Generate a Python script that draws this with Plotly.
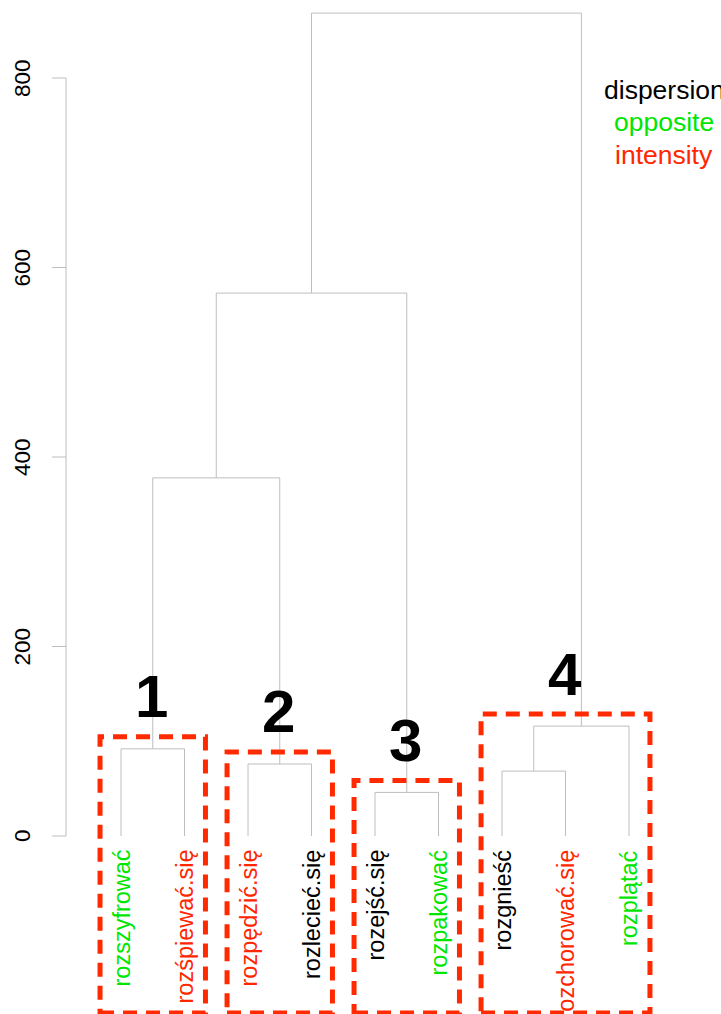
import plotly.graph_objects as go

# ---------------- data ----------------
leaves = ["rozszyfrować", "rozśpiewać.się", "rozpędzić.się", "rozlecieć.się",
          "rozejść.się", "rozpakować", "rozgnieść", "rozchorować.się", "rozplątać"]
leaf_groups = ["opposite", "intensity", "intensity", "dispersion",
               "dispersion", "opposite", "dispersion", "intensity", "opposite"]
# hclust-style merges: negative = leaf (1-based position), positive = earlier merge
merge_left = [-5, -7, -3, -1, 2, 4, 6, 7]
merge_right = [-6, -8, -4, -2, -9, 3, 1, 5]
merge_height = [46, 68.5, 76, 92, 116, 378, 573, 868.5]
# highlighted clusters: member leaves and the merge that closes each cluster
cluster_names = ["1", "2", "3", "4"]
cluster_leaves = [[1, 2], [3, 4], [5, 6], [7, 8, 9]]
cluster_merge = [4, 3, 1, 5]
tick_values = [0, 200, 400, 600, 800]
legend_groups = ["dispersion", "opposite", "intensity"]

# ---------------- style ----------------
FONT = "Liberation Sans, Arial, Helvetica, sans-serif"
group_colors = {"dispersion": "#000000", "opposite": "#00E600", "intensity": "#FF2600"}
LINE_GREY = "#BEBEBE"
BOX_RED = "#FF2A00"

W, H = 721, 1014
# pixel mapping (leaf i at 57.5 + 63.5*i px ; value v at 836 - 0.9475*v px)
x_range = [(0 - 57.5) / 63.5, (W - 57.5) / 63.5]
y_range = [(836 - H) / 0.9475, 836 / 0.9475]
px_y = 1 / 0.9475  # data units per pixel (y)
px_x = 1 / 63.5    # data units per pixel (x)

# ---------------- dendrogram geometry ----------------
node_x, node_h = {}, {}


def child_pos(c):
    if c < 0:
        return float(-c), 0.0
    return node_x[c], node_h[c]


seg_x, seg_y = [], []
for j, (a, b, h) in enumerate(zip(merge_left, merge_right, merge_height), start=1):
    xa, ha = child_pos(a)
    xb, hb = child_pos(b)
    seg_x += [xa, xa, xb, xb, None]
    seg_y += [ha, h, h, hb, None]
    node_x[j] = (xa + xb) / 2
    node_h[j] = h

fig = go.Figure()
fig.add_trace(go.Scatter(x=seg_x, y=seg_y, mode="lines",
                         line=dict(color=LINE_GREY, width=1),
                         hoverinfo="skip", showlegend=False))

# y axis (R style: line only between first and last tick)
ax_x = (66 - 57.5) * px_x
tick_len = 14 * px_x
axis_x = [ax_x, ax_x, None]
axis_y = [tick_values[0], tick_values[-1], None]
for t in tick_values:
    axis_x += [ax_x, ax_x - tick_len, None]
    axis_y += [t, t, None]
fig.add_trace(go.Scatter(x=axis_x, y=axis_y, mode="lines",
                         line=dict(color=LINE_GREY, width=1),
                         hoverinfo="skip", showlegend=False))

annotations = []
for t in tick_values:
    annotations.append(dict(x=ax_x - 44 * px_x, y=t, xref="x", yref="y",
                            text=str(t), showarrow=False, textangle=-90,
                            xanchor="center", yanchor="middle",
                            font=dict(family=FONT, size=22.5, color="#000000")))

# leaf labels
for i, (lab, g) in enumerate(zip(leaves, leaf_groups), start=1):
    annotations.append(dict(x=i, y=-12 * px_y, xref="x", yref="y", text=lab,
                            showarrow=False, textangle=-90,
                            xanchor="center", yanchor="top",
                            font=dict(family=FONT, size=23.5, color=group_colors[g])))

# legend text (top right)
leg_x = (664 - 57.5) * px_x
leg_pix_y = [90, 122, 155]
for g, py in zip(legend_groups, leg_pix_y):
    annotations.append(dict(x=leg_x, y=(836 - py) * px_y, xref="x", yref="y",
                            text=g, showarrow=False, xanchor="center", yanchor="middle",
                            font=dict(family=FONT, size=26.5, color=group_colors[g])))

# cluster boxes + numbers
shapes = []
pad = 0.33
for name, members, m in zip(cluster_names, cluster_leaves, cluster_merge):
    x0 = min(members) - pad
    x1 = max(members) + pad
    top = merge_height[m - 1] + 12 * px_y
    bottom = (836 - 1013) * px_y
    shapes.append(dict(type="rect", xref="x", yref="y", x0=x0, x1=x1, y0=bottom, y1=top,
                       line=dict(color=BOX_RED, width=5, dash="14px,9px"),
                       fillcolor="rgba(0,0,0,0)", layer="above"))
    annotations.append(dict(x=(x0 + x1) / 2 - 1 * px_x, y=top + 40 * px_y, xref="x", yref="y",
                            text="<b>%s</b>" % name, showarrow=False,
                            xanchor="center", yanchor="middle",
                            font=dict(family=FONT, size=60, color="#000000")))

fig.update_layout(
    width=W, height=H, autosize=False,
    margin=dict(l=0, r=0, t=0, b=0, pad=0),
    paper_bgcolor="white", plot_bgcolor="white",
    xaxis=dict(range=x_range, visible=False, fixedrange=True),
    yaxis=dict(range=y_range, visible=False, fixedrange=True),
    showlegend=False,
    annotations=annotations,
    shapes=shapes,
)

fig.write_html(
    "out.html",
    config={"displayModeBar": False},
    post_script="document.body.style.margin='0';document.body.style.padding='0';"
                "document.documentElement.style.overflow='hidden';",
)
